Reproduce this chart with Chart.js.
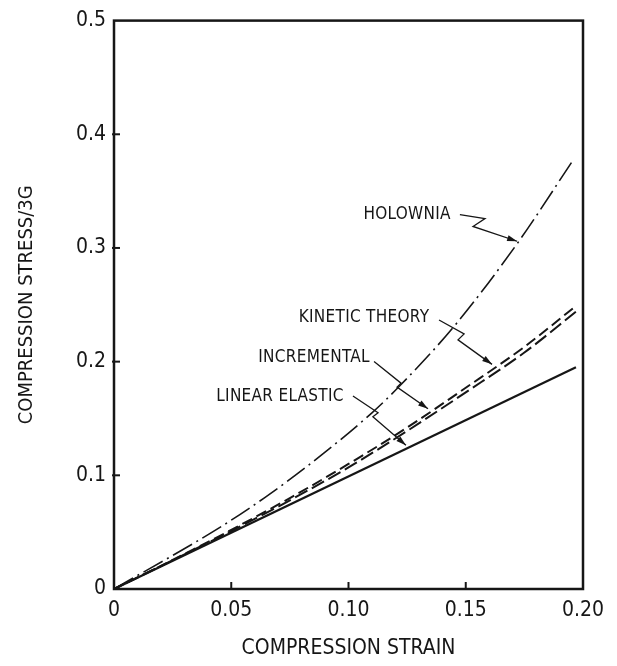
<!DOCTYPE html>
<html>
<head>
<meta charset="utf-8">
<script src="https://cdn.jsdelivr.net/npm/chart.js@4/dist/chart.umd.min.js"></script>
<style>
  html, body { margin: 0; padding: 0; background: #fff; }
  #wrap { width: 617px; height: 666px; }
</style>
</head>
<body>
<div id="wrap"><canvas id="stress-chart"></canvas></div>
<script>
// valores
const xTickLabels = ["0", "0.05", "0.10", "0.15", "0.20"];
const yTickLabels = ["0", "0.1", "0.2", "0.3", "0.4", "0.5"];

const strainLinear = [0, 0.197];
const stressLinear = [0, 0.195];

const strainKinetic = [0, 0.025, 0.05, 0.075, 0.10, 0.125, 0.15, 0.175, 0.197];
const stressKinetic = [0, 0.0255, 0.052, 0.080, 0.110, 0.142, 0.177, 0.213, 0.249];

const strainIncremental = [0, 0.025, 0.05, 0.075, 0.10, 0.125, 0.15, 0.175, 0.197];
const stressIncremental = [0, 0.0253, 0.051, 0.078, 0.107, 0.139, 0.173, 0.208, 0.244];

const strainHolownia = [0, 0.045, 0.064, 0.083, 0.110, 0.122, 0.145, 0.172, 0.196];
const stressHolownia = [0, 0.054, 0.080, 0.109, 0.155, 0.179, 0.231, 0.304, 0.378];

const FONT = "'Liberation Sans Narrow', 'DejaVu Sans Condensed', 'Liberation Sans', sans-serif";
const INK = "#161616";

function pairs(xs, ys) {
  return xs.map((x, i) => ({ x: x, y: ys[i] }));
}

// rótulos com setas em zigue-zague (coordenadas em unidades dos eixos)
const callouts = [
  { text: "HOLOWNIA", at: [0.125, 0.329],
    path: [[0.1475, 0.3293], [0.1582, 0.3258], [0.1531, 0.3189], [0.1719, 0.3059]] },
  { text: "KINETIC THEORY", at: [0.1066, 0.239],
    path: [[0.1386, 0.2366], [0.1493, 0.2244], [0.1467, 0.2192], [0.1612, 0.1976]] },
  { text: "INCREMENTAL", at: [0.0853, 0.2036],
    path: [[0.1109, 0.2002], [0.1224, 0.1811], [0.1207, 0.1776], [0.1339, 0.1586]] },
  { text: "LINEAR ELASTIC", at: [0.0708, 0.169],
    path: [[0.1019, 0.1698], [0.1126, 0.1551], [0.1104, 0.1516], [0.1245, 0.1265]] },
];

const framePlugin = {
  id: "frame",
  afterDatasetsDraw(chart) {
    const { ctx, chartArea: a, scales } = chart;
    ctx.save();
    ctx.strokeStyle = INK;
    ctx.lineWidth = 2.5;
    ctx.strokeRect(a.left, a.top, a.right - a.left, a.bottom - a.top);

    // marcas dos eixos para dentro
    ctx.lineWidth = 2;
    scales.x.ticks.forEach((t) => {
      if (t.value <= 0 || t.value >= 0.2) return;
      const px = scales.x.getPixelForValue(t.value);
      ctx.beginPath();
      ctx.moveTo(px, a.bottom);
      ctx.lineTo(px, a.bottom - 7);
      ctx.stroke();
    });
    scales.y.ticks.forEach((t) => {
      if (t.value <= 0 || t.value >= 0.5) return;
      const py = scales.y.getPixelForValue(t.value);
      ctx.beginPath();
      ctx.moveTo(a.left - 2, py);
      ctx.lineTo(a.left + 6, py);
      ctx.stroke();
    });

    // chamadas
    ctx.fillStyle = INK;
    ctx.font = "17px " + FONT;
    ctx.letterSpacing = "0.3px";
    ctx.textAlign = "center";
    ctx.textBaseline = "middle";
    ctx.lineWidth = 1.3;
    callouts.forEach((c) => {
      ctx.fillText(c.text, scales.x.getPixelForValue(c.at[0]), scales.y.getPixelForValue(c.at[1]));
      const pts = c.path.map((p) => [scales.x.getPixelForValue(p[0]), scales.y.getPixelForValue(p[1])]);
      ctx.beginPath();
      pts.forEach((p, i) => (i ? ctx.lineTo(p[0], p[1]) : ctx.moveTo(p[0], p[1])));
      ctx.stroke();
      const tip = pts[pts.length - 1];
      const prev = pts[pts.length - 2];
      const ang = Math.atan2(tip[1] - prev[1], tip[0] - prev[0]);
      ctx.beginPath();
      ctx.moveTo(tip[0], tip[1]);
      ctx.lineTo(tip[0] - 10 * Math.cos(ang) + 3 * Math.sin(ang), tip[1] - 10 * Math.sin(ang) - 3 * Math.cos(ang));
      ctx.lineTo(tip[0] - 10 * Math.cos(ang) - 3 * Math.sin(ang), tip[1] - 10 * Math.sin(ang) + 3 * Math.cos(ang));
      ctx.closePath();
      ctx.fill();
    });
    ctx.restore();
  },
};

const ctx = document.getElementById("stress-chart").getContext("2d");
const stressChart = new Chart(ctx, {
  type: "line",
  data: {
    datasets: [
      {
        label: "Linear Elastic",
        data: pairs(strainLinear, stressLinear),
        borderColor: INK,
        borderWidth: 2.2,
      },
      {
        label: "Kinetic Theory",
        data: pairs(strainKinetic, stressKinetic),
        borderColor: INK,
        borderWidth: 2,
        borderDash: [11, 5],
        cubicInterpolationMode: "monotone",
      },
      {
        label: "Incremental",
        data: pairs(strainIncremental, stressIncremental),
        borderColor: INK,
        borderWidth: 2,
        borderDash: [14, 5],
        borderDashOffset: 6,
        cubicInterpolationMode: "monotone",
      },
      {
        label: "Holownia",
        data: pairs(strainHolownia, stressHolownia),
        borderColor: INK,
        borderWidth: 1.6,
        borderDash: [22, 5, 2, 5],
        cubicInterpolationMode: "monotone",
      },
    ],
  },
  options: {
    responsive: true,
    maintainAspectRatio: false,
    animation: false,
    layout: { padding: { top: 12, right: 34, left: 0, bottom: 0 } },
    elements: { point: { radius: 0 } },
    plugins: {
      legend: { display: false },
      tooltip: { enabled: false },
    },
    scales: {
      x: {
        type: "linear",
        min: 0,
        max: 0.2,
        grid: { display: false, drawTicks: false },
        border: { display: false },
        afterFit: (s) => { s.height = 77; },
        ticks: {
          stepSize: 0.05,
          padding: 9,
          color: INK,
          font: { family: FONT, size: 21 },
          callback: (v, i) => xTickLabels[i],
        },
        title: {
          display: true,
          text: "COMPRESSION STRAIN",
          color: INK,
          font: { family: FONT, size: 21 },
          padding: { top: 0, bottom: 5 },
        },
      },
      y: {
        min: 0,
        max: 0.5,
        grid: { display: false, drawTicks: false },
        border: { display: false },
        afterFit: (s) => { s.width = 114; },
        ticks: {
          stepSize: 0.1,
          padding: 8,
          color: INK,
          font: { family: FONT, size: 21 },
          callback: (v, i) => yTickLabels[i],
        },
        title: {
          display: true,
          text: "COMPRESSION STRESS/3G",
          color: INK,
          font: { family: FONT, size: 20 },
          padding: { top: 15, bottom: 0 },
        },
      },
    },
  },
  plugins: [framePlugin],
});
</script>
</body>
</html>
